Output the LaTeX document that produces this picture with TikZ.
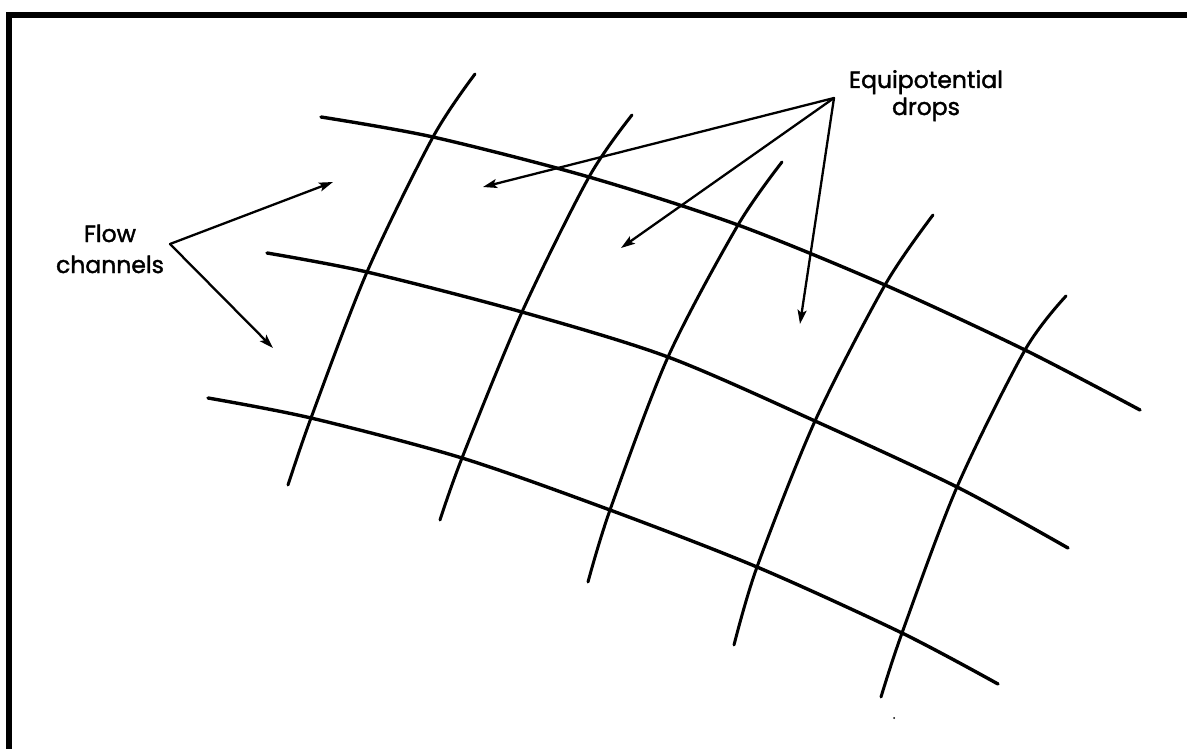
\documentclass[tikz,border=0pt]{standalone}
\usepackage{fontspec}
\setmainfont{Poppins}[FakeBold=1.6]
\usetikzlibrary{arrows.meta}
\begin{document}
\begin{tikzpicture}[x=1pt,y=-1pt,
  flowline/.style={line width=3.4pt, line cap=round, line join=round},
  potline/.style={line width=3pt, line cap=round, line join=round},
  pointer/.style={line width=2.3pt, line cap=round, -{Stealth[length=14pt,width=9pt,inset=3pt]}},
  lbl/.style={inner sep=0pt, anchor=base, font=\fontsize{23.5}{27}\selectfont}]
\useasboundingbox (0,0) rectangle (1187,749);
% frame
\fill (6,12) rectangle (1187,18);
\fill (6,12) rectangle (12,749);
% grid points
\coordinate (f1s) at (321,117);
\coordinate (p11) at (433,137);
\coordinate (p12) at (589,177);
\coordinate (p13) at (738,225);
\coordinate (p14) at (885,285);
\coordinate (p15) at (1025,350);
\coordinate (f1e) at (1140,410);
\coordinate (f2s) at (267,253);
\coordinate (p21) at (367,272);
\coordinate (p22) at (522,312);
\coordinate (p23) at (668,357);
\coordinate (p24) at (815,421);
\coordinate (p25) at (957,487);
\coordinate (f2e) at (1068,548);
\coordinate (f3s) at (208,398);
\coordinate (p31) at (311,418);
\coordinate (p32) at (462,458);
\coordinate (p33) at (610,510);
\coordinate (p34) at (757,567);
\coordinate (p35) at (902,633);
\coordinate (f3e) at (998,684);
\coordinate (t1) at (475,74);
\coordinate (t2) at (632,115);
\coordinate (t3) at (782,162);
\coordinate (t4) at (933,215);
\coordinate (t5) at (1066,296);
\coordinate (b1) at (288,485);
\coordinate (b2) at (440,520);
\coordinate (b3) at (588,582);
\coordinate (b4) at (734,645);
\coordinate (b5) at (881,697);
% flow lines
\draw[flowline] plot[smooth,tension=0.5] coordinates {(f1s) (p11) (p12) (p13) (p14) (p15) (f1e)};
\draw[flowline] plot[smooth,tension=0.5] coordinates {(f2s) (p21) (p22) (p23) (p24) (p25) (f2e)};
\draw[flowline] plot[smooth,tension=0.5] coordinates {(f3s) (p31) (p32) (p33) (p34) (p35) (f3e)};
% equipotential lines
\draw[potline] plot[smooth,tension=0.5] coordinates {(t1) (p11) (p21) (p31) (b1)};
\draw[potline] plot[smooth,tension=0.5] coordinates {(t2) (p12) (p22) (p32) (b2)};
\draw[potline] plot[smooth,tension=0.5] coordinates {(t3) (p13) (p23) (p33) (b3)};
\draw[potline] plot[smooth,tension=0.5] coordinates {(t4) (p14) (p24) (p34) (b4)};
\draw[potline] plot[smooth,tension=0.5] coordinates {(t5) (p15) (p25) (p35) (b5)};
% labels
\node[lbl] (eq) at (926,88) {Equipotential};
\node[lbl] (dr) at (926,115) {drops};
\node[lbl] (fl) at (110,242) {Flow};
\node[lbl] (ch) at (110,273) {channels};
% pointers
\coordinate (edA) at (834,98);
\coordinate (ed1) at (483,187);
\coordinate (ed2) at (621,248);
\coordinate (ed3) at (800,324);
\coordinate (fcA) at (170,244);
\coordinate (fc1) at (333,182);
\coordinate (fc2) at (273,348);
\draw[pointer] (edA) -- (ed1);
\draw[pointer] (edA) -- (ed2);
\draw[pointer] (edA) -- (ed3);
\draw[pointer] (fcA) -- (fc1);
\draw[pointer] (fcA) -- (fc2);
% speck
\fill (894,718) circle (1pt);
\end{tikzpicture}
\end{document}
